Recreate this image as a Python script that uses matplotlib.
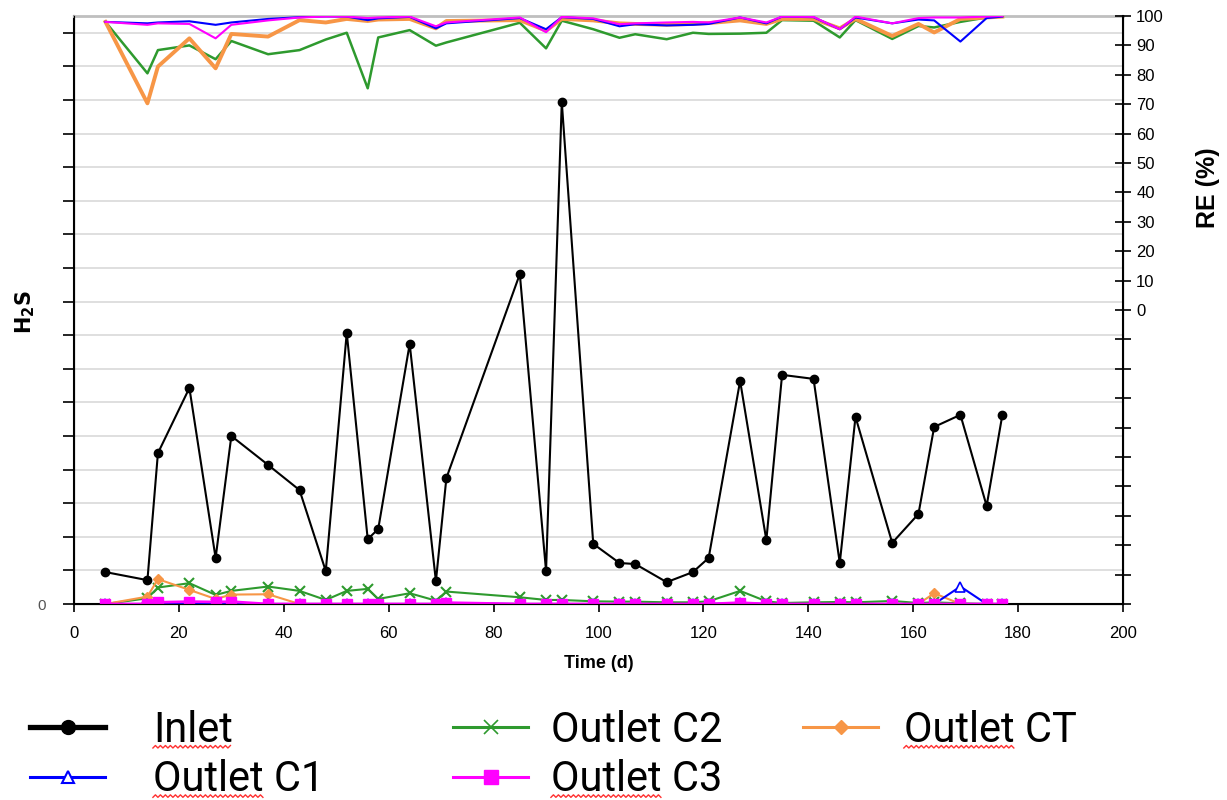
import matplotlib
matplotlib.use("Agg")
import matplotlib.pyplot as plt
import numpy as np
from matplotlib.lines import Line2D

plt.rcParams['font.family'] = ['Liberation Sans', 'DejaVu Sans']

# sampling days
days = [6, 14, 16, 22, 27, 30, 37, 43, 48, 52, 56, 58, 64, 69, 71, 85, 90, 93,
        99, 104, 107, 113, 118, 121, 127, 132, 135, 141, 146, 149, 156, 161,
        164, 169, 174, 177]

# H2S concentrations (left axis, unlabelled units)
inlet = [190, 142, 898, 1286, 274, 1000, 828, 678, 196, 1614, 386, 446, 1548,
         136, 750, 1964, 196, 2988, 358, 244, 238, 130, 190, 274, 1328, 380,
         1364, 1340, 244, 1114, 364, 536, 1054, 1126, 584, 1126]
out_c1 = [0, 0, 4, 6, 0, 2, 0, 0, 0, 0, 0, 0, 0, 0, 4, 0, 0, 0,
          0, 0, 0, 0, 0, 0, 6, 0, 0, 0, 0, 0, 0, 0, 0, 104, 0, 0]
out_c2 = [0, 34, 98, 124, 54, 78, 104, 78, 24, 78, 90, 30, 64, 20, 74, 40, 24, 24,
          16, 14, 14, 10, 10, 16, 78, 16, 6, 10, 12, 10, 18, 6, 10, 4, 0, 0]
out_c3 = [0, 0, 10, 14, 12, 14, 0, 0, 0, 0, 0, 0, 0, 0, 8, 0, 0, 0,
          0, 0, 0, 0, 0, 0, 8, 0, 0, 0, 0, 0, 0, 0, 0, 0, 0, 0]
out_ct = [0, 44, 148, 84, 30, 56, 58, 0, 0, 0, 0, 0, 0, 0, 0, 0, 0, 0,
          0, 0, 0, 0, 0, 0, 0, 0, 0, 0, 0, 0, 0, 0, 64, 0, 0, 0]

# removal efficiency (right axis, %)
re_c1 = [98, 97.5, 97.8, 98.2, 97, 97.8, 99, 99.6, 99.9, 99.8, 98.6, 99.2, 99.7,
         95.8, 97.5, 99.3, 95.5, 99.6, 99, 96.5, 97.2, 96.8, 97, 97.3, 99.5, 97.5,
         99.8, 99.6, 95.5, 99.5, 97.5, 98.8, 98.5, 91.3, 99.3, 99.8]
re_c2 = [98, 80.5, 88.4, 90, 85.3, 91.5, 87, 88.4, 92, 94.3, 75.4, 92.7, 95.2,
         89.9, 91, 97.7, 89, 98.4, 95.5, 92.6, 93.8, 92.1, 94.3, 93.9, 94, 94.3,
         98.6, 98.4, 92.7, 98.6, 92.2, 96.6, 96.1, 98, 99.5, 100]
re_c3 = [98, 97, 97.5, 97.3, 92.4, 97, 98.5, 99.5, 99.8, 99.8, 99.3, 99.5, 99.8,
         96.5, 97.8, 99.5, 94.5, 99.7, 99.2, 97.2, 97.5, 97.8, 98, 97.8, 99.5, 97.8,
         99.8, 99.7, 95.5, 99.8, 97.5, 99.3, 99.5, 99.5, 99.8, 100]
re_ct = [98, 70.3, 82.8, 92.4, 82.2, 93.9, 93, 98.6, 97.8, 99, 98.3, 98.8, 99,
         95.8, 98.3, 98.6, 95, 99, 98.5, 97.5, 97.3, 97, 97.3, 97.6, 98.5, 97.3,
         99, 99, 95.8, 99, 93.2, 97.3, 94.4, 99, 99.5, 99.8]

c_blue = '#0000ff'
c_green = '#2e9a2e'
c_mag = '#ff00ff'
c_orange = '#f79646'

W, H = 1227, 800
fig = plt.figure(figsize=(W / 100, H / 100), dpi=100)
ax = fig.add_axes([74 / W, 1 - 604 / H, (1123 - 74) / W, (604 - 16) / H])
ax2 = ax.twinx()

# left axis: concentrations
ax.plot(days, inlet, color='black', lw=1.5, marker='o', ms=6, zorder=5)
ax.plot(days, out_c2, color=c_green, lw=1.5, marker='x', ms=7, mew=1.5, zorder=4)
ax.plot(days, out_ct, color=c_orange, lw=1.5, marker='D', ms=5, zorder=4)
ax.plot(days, out_c1, color=c_blue, lw=1.5, marker='^', ms=7, mfc='white', mew=1.2, zorder=4)
ax.plot(days, out_c3, color=c_mag, lw=2, marker='s', ms=7, zorder=6)

ax.set_xlim(0, 200)
ax.set_ylim(0, 3500)
ax.set_xticks(np.arange(0, 201, 20))
ax.set_yticks(np.arange(0, 3500, 200))
ax.set_yticklabels(['0'] + [''] * 17, color='#555555')
ax.grid(axis='y', color='#d9d9d9', lw=1.2)
ax.set_axisbelow(True)
ax.tick_params(axis='x', direction='out', length=6, width=1.2, labelsize=12, pad=10)
ax.tick_params(axis='y', direction='out', length=8, width=1.2, labelsize=11, pad=12)
for s in ['left', 'bottom']:
    ax.spines[s].set_linewidth(1.5)
ax.spines['top'].set_color('#bfbfbf')
ax.spines['top'].set_linewidth(2)
ax.set_xlabel('Time (d)', fontweight='bold', fontsize=13, labelpad=10)
fig.text(25 / W, 1 - 312 / H, r'$\mathbf{H_2S}$', rotation=90, fontsize=15,
         ha='center', va='center')

# right axis: removal efficiency
ax2.plot(days, re_c2, color=c_green, lw=1.8)
ax2.plot(days, re_ct, color=c_orange, lw=2.8)
ax2.plot(days, re_c1, color=c_blue, lw=1.5)
ax2.plot(days, re_c3, color=c_mag, lw=1.5)
ax2.set_ylim(-100, 100)
ax2.set_yticks(np.arange(-100, 101, 10))
ax2.set_yticklabels([str(v) if v >= 0 else '' for v in range(-100, 101, 10)])
ax2.tick_params(axis='y', direction='inout', length=12, width=1.2, labelsize=12)
ax2.spines['right'].set_linewidth(1.5)
ax2.spines['top'].set_visible(False)
fig.text(1208 / W, 1 - 188 / H, 'RE (%)', rotation=90, fontweight='bold',
         fontsize=18, ha='center', va='center')

# legend below the plot, three columns
leg_font = {'family': ['Roboto', 'DejaVu Sans'], 'size': 30}
columns = [
    ([Line2D([], [], color='black', lw=3.8, marker='o', ms=10),
      Line2D([], [], color=c_blue, lw=2.2, marker='^', ms=9, mfc='white', mew=1.5)],
     ['Inlet', 'Outlet C1'], 30, 1.15),
    ([Line2D([], [], color=c_green, lw=2.2, marker='x', ms=10, mew=1.2),
      Line2D([], [], color=c_mag, lw=2.2, marker='s', ms=10)],
     ['Outlet C2', 'Outlet C3'], 453, 0.55),
    ([Line2D([], [], color=c_orange, lw=2.2, marker='D', ms=7)],
     ['Outlet CT'], 803, 0.62),
]
legends = []
for hs, labs, x0, pad in columns:
    lg = fig.legend(hs, labs, loc='upper left', bbox_to_anchor=(x0 / W, 1 - 710 / H),
                    frameon=False, prop=leg_font, borderpad=0, borderaxespad=0,
                    handlelength=1.8, handletextpad=pad, labelspacing=0.2)
    legends.append(lg)

# red spell-check squiggles under the flagged words
fig.canvas.draw()
renderer = fig.canvas.get_renderer()
inv = fig.transFigure.inverted()
for lg in legends:
    for t in lg.get_texts():
        label = t.get_text()
        if label == 'Outlet C2':
            continue
        word = label.split()[0]
        tmp = fig.text(0, 0, word, fontproperties=t.get_fontproperties())
        wlen = tmp.get_window_extent(renderer).width
        tmp.remove()
        bb = t.get_window_extent(renderer)
        xs = np.arange(bb.x0, bb.x0 + wlen, 2.5)
        ys = bb.y0 + 3 + np.where(np.arange(len(xs)) % 2 == 0, 0, 2.5)
        pts = inv.transform(np.column_stack([xs, ys]))
        fig.add_artist(Line2D(pts[:, 0], pts[:, 1], color='#ff3030', lw=1.0))

fig.savefig('out.png', dpi=100)
